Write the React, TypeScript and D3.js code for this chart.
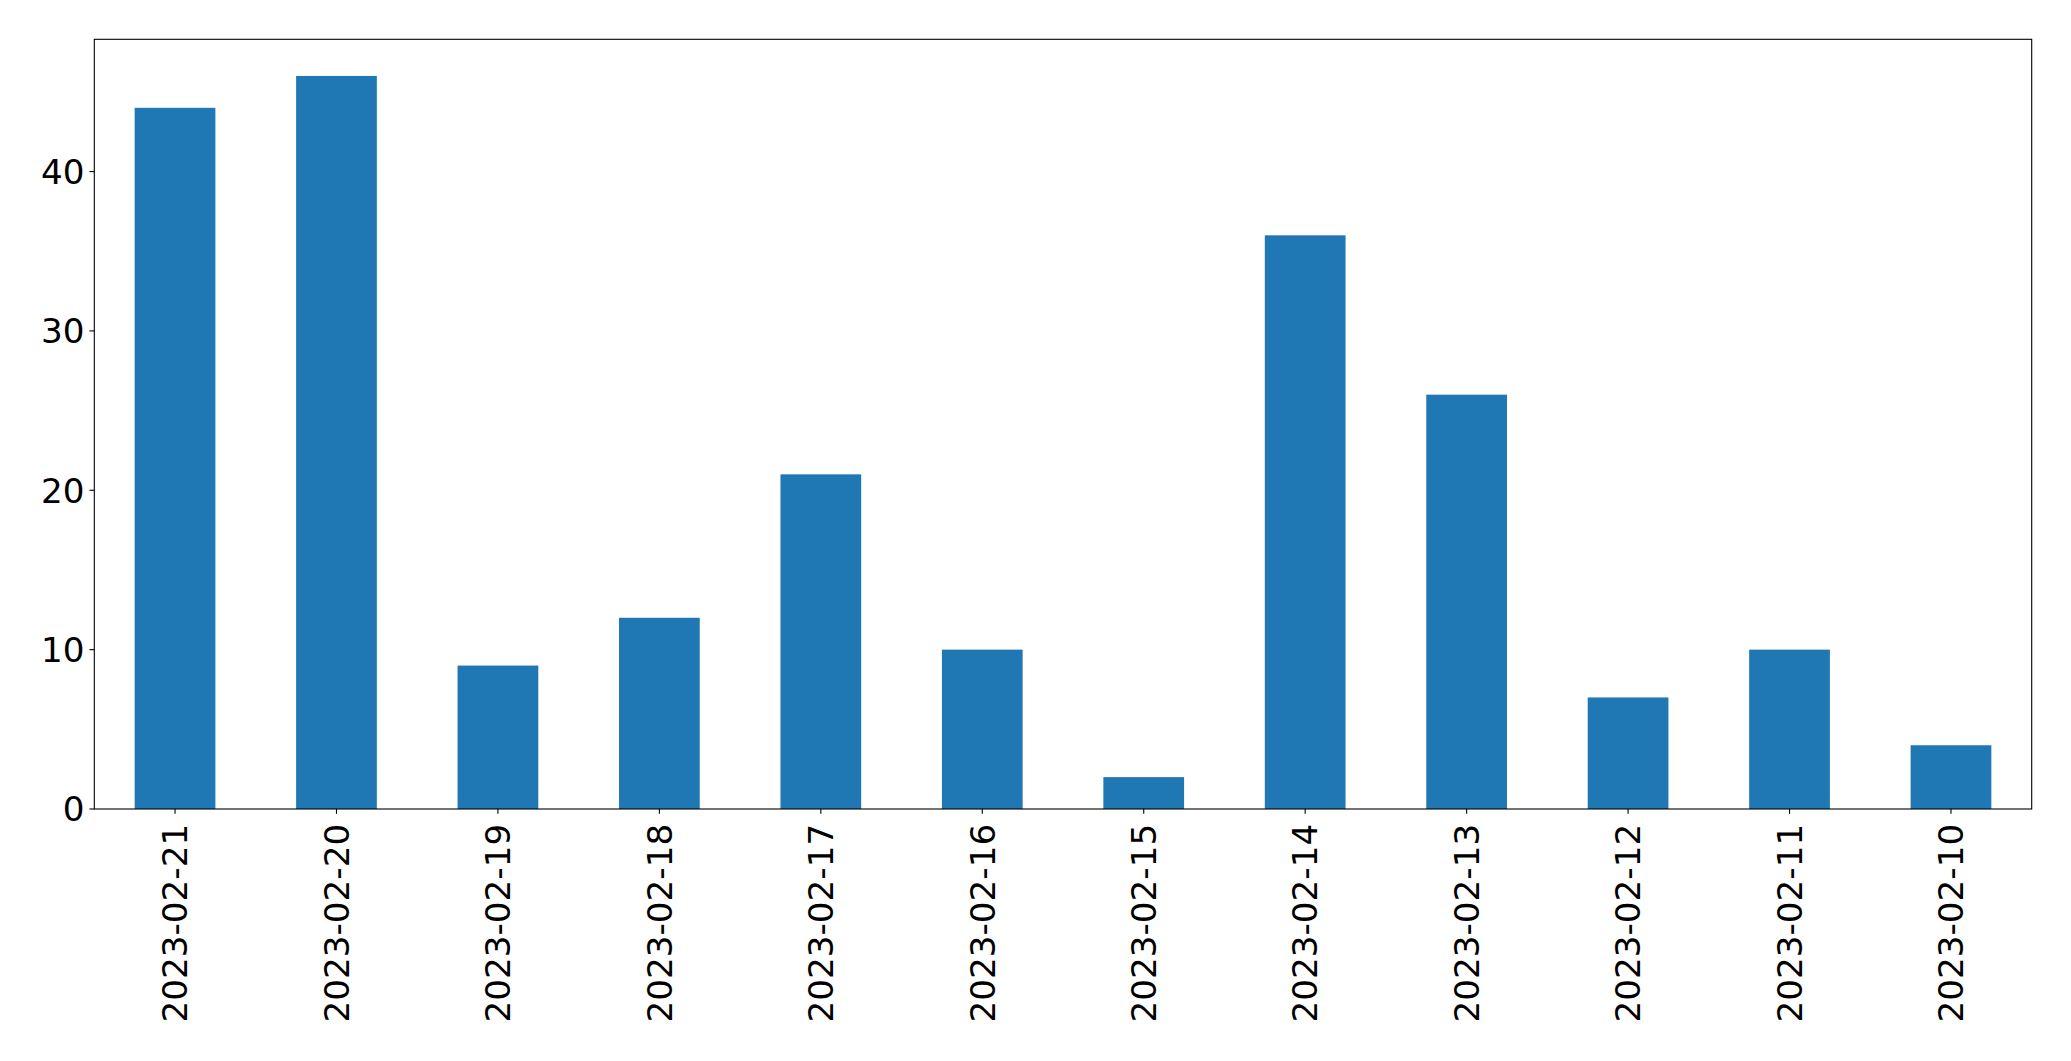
import React from "react";
import * as d3 from "d3";

const categories = [
  "2023-02-21", "2023-02-20", "2023-02-19", "2023-02-18", "2023-02-17", "2023-02-16",
  "2023-02-15", "2023-02-14", "2023-02-13", "2023-02-12", "2023-02-11", "2023-02-10",
];
const values = [44, 46, 9, 12, 21, 10, 2, 36, 26, 7, 10, 4];
const yTicks = [0, 10, 20, 30, 40];

const W = 2071;
const H = 1061;
const left = 94.3;
const right = 2031.7;
const top = 39.3;
const bottom = 809;
const FONT = "'DejaVu Sans', sans-serif";
const FS = 34.2;
const TICK = 4.86;

export default function App() {
  const x = d3
    .scaleLinear()
    .domain([-0.5, categories.length - 0.5])
    .range([left, right]);
  const yMax = d3.max(values)! * 1.05;
  const y = d3.scaleLinear().domain([0, yMax]).range([bottom, top]);
  const bw = x(0.25) - x(-0.25);

  return (
    <svg
      width={W}
      height={H}
      style={{ position: "absolute", left: 0, top: 0, background: "#fff" }}
    >
      <rect x={0} y={0} width={W} height={H} fill="#fff" />
      {values.map((v, i) => (
        <rect
          key={i}
          x={x(i) - bw / 2}
          y={y(v)}
          width={bw}
          height={y(0) - y(v)}
          fill="#1f77b4"
        />
      ))}
      <rect
        x={left}
        y={top}
        width={right - left}
        height={bottom - top}
        fill="none"
        stroke="#000"
        strokeWidth={1.1}
      />
      {yTicks.map((t) => (
        <g key={t}>
          <line x1={left - TICK} x2={left} y1={y(t)} y2={y(t)} stroke="#000" strokeWidth={1.1} />
          <text
            x={left - TICK - 5}
            y={y(t)}
            dy="0.36em"
            textAnchor="end"
            fontFamily={FONT}
            fontSize={FS}
            fill="#000"
          >
            {t}
          </text>
        </g>
      ))}
      {categories.map((c, i) => (
        <g key={c}>
          <line x1={x(i)} x2={x(i)} y1={bottom} y2={bottom + TICK} stroke="#000" strokeWidth={1.1} />
          <text
            transform={`translate(${x(i)},${bottom + TICK + 10}) rotate(-90)`}
            dy="0.36em"
            textAnchor="end"
            fontFamily={FONT}
            fontSize={FS}
            fill="#000"
          >
            {c}
          </text>
        </g>
      ))}
    </svg>
  );
}
